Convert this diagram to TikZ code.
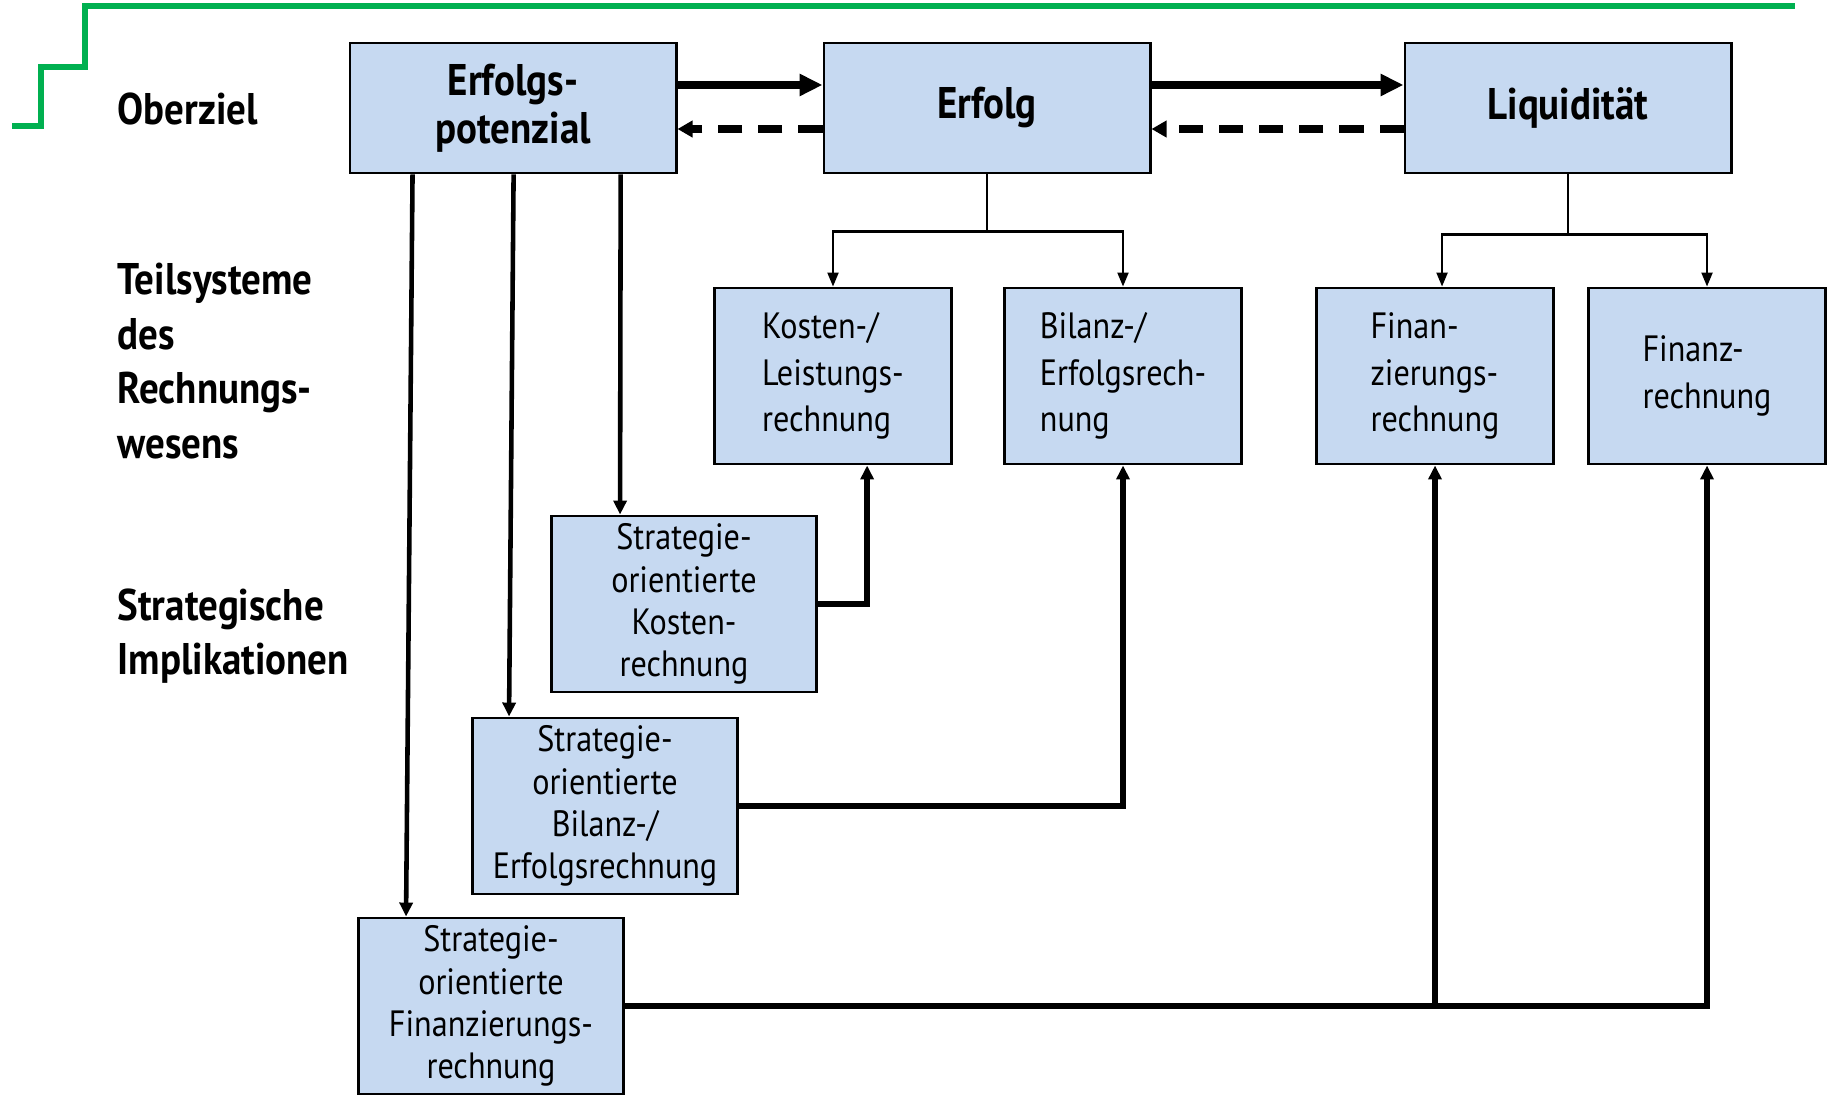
\documentclass[tikz,border=0pt]{standalone}
\usepackage{fontspec}
\setmainfont{PT Sans}[FakeStretch=0.88]
\usetikzlibrary{arrows.meta}
\definecolor{boxblue}{RGB}{198,217,241}
\definecolor{goalgreen}{RGB}{0,176,80}
\begin{document}
\begin{tikzpicture}[x=0.01cm, y=-0.01cm,
    box/.style={draw, rectangle, line width=0.8pt, fill=boxblue, inner sep=0pt, align=center},
    topbox/.style={box, minimum width=3.26cm, minimum height=1.30cm, font=\bfseries\fontsize{12.6}{13.6}\selectfont},
    subbox/.style={box, minimum width=2.37cm, minimum height=1.76cm, align=left, font=\fontsize{10.4}{13.3}\selectfont},
    stratbox/.style={box, minimum width=2.65cm, minimum height=1.76cm, font=\fontsize{10.4}{12}\selectfont},
    lbl/.style={anchor=west, align=left, inner sep=0pt, font=\bfseries\fontsize{12.6}{15.5}\selectfont},
    big/.style={-{Triangle[length=.23cm, width=.21cm]}, line width=2.2pt},
    back/.style={-{Triangle[length=.15cm, width=.16cm]}, line width=2pt, dash pattern=on .24cm off .16cm},
    tree/.style={-{Triangle[length=.14cm, width=.11cm]}, line width=.6pt},
    down/.style={-{Triangle[length=.14cm, width=.13cm]}, line width=1.3pt},
    up/.style={-{Triangle[length=.14cm, width=.13cm]}, line width=1.6pt}]
  \useasboundingbox (0,0) rectangle (1834,1094);

  % green step line
  \draw[goalgreen, line width=1.8pt] (12,126) -- (41,126) -- (41,67) -- (85,67) -- (85,6) -- (1795,6);

  % row labels
  \node[lbl] (oz) at (117,109) {Oberziel};
  \node[lbl] (ts) at (117,361) {Teilsysteme\\des\\Rechnungs-\\wesens};
  \node[lbl] (si) at (117,636) {Strategische\\Implikationen};

  % goals
  \node[topbox] (pot) at (513,108) {Erfolgs-\\potenzial};
  \node[topbox] (erf) at (987,108) {Erfolg};
  \node[topbox] (liq) at (1568,108) {Liquidität};

  % subsystems
  \node[subbox] (kost) at (833,376) {Kosten-/\\Leistungs-\\rechnung};
  \node[subbox] (bil) at (1123,376) {Bilanz-/\\Erfolgsrech-\\nung};
  \node[subbox] (fin) at (1435,376) {Finan-\\zierungs-\\rechnung};
  \node[subbox] (fnz) at (1707,376) {Finanz-\\rechnung};

  % strategic implications
  \node[stratbox] (sk) at (684,604) {Strategie-\\orientierte\\Kosten-\\rechnung};
  \node[stratbox] (sb) at (605,806) {Strategie-\\orientierte\\Bilanz-/\\Erfolgsrechnung};
  \node[stratbox] (sf) at (491,1006) {Strategie-\\orientierte\\Finanzierungs-\\rechnung};

  \draw[big] ([yshift=.23cm]pot.east) -- ([yshift=.23cm]erf.west);
  \draw[big] ([yshift=.23cm]erf.east) -- ([yshift=.23cm]liq.west);
  \draw[back] ([yshift=-.21cm]erf.west) -- ([yshift=-.21cm]pot.east);
  \draw[back] ([yshift=-.21cm]liq.west) -- ([yshift=-.21cm]erf.east);

  \draw[tree] (erf.south) -- ++(0,57) -| (kost.north);
  \draw[tree] (erf.south) -- ++(0,57) -| (bil.north);
  \draw[tree] (liq.south) -- ++(0,60) -| ([xshift=.07cm]fin.north);
  \draw[tree] (liq.south) -- ++(0,60) -| (fnz.north);

  \draw[down] ([xshift=2.72cm]pot.south west) -- ([xshift=.70cm]sk.north west);
  \draw[down] ([xshift=1.65cm]pot.south west) -- ([xshift=.38cm]sb.north west);
  \draw[down] ([xshift=.64cm]pot.south west) -- ([xshift=.49cm]sf.north west);

  \draw[up] (sk.east) -| ([xshift=1.54cm]kost.south west);
  \draw[up] (sb.east) -| (bil.south);
  \draw[up] (sf.east) -| (fin.south);
  \draw[up] (sf.east) -| (fnz.south);
\end{tikzpicture}
\end{document}
